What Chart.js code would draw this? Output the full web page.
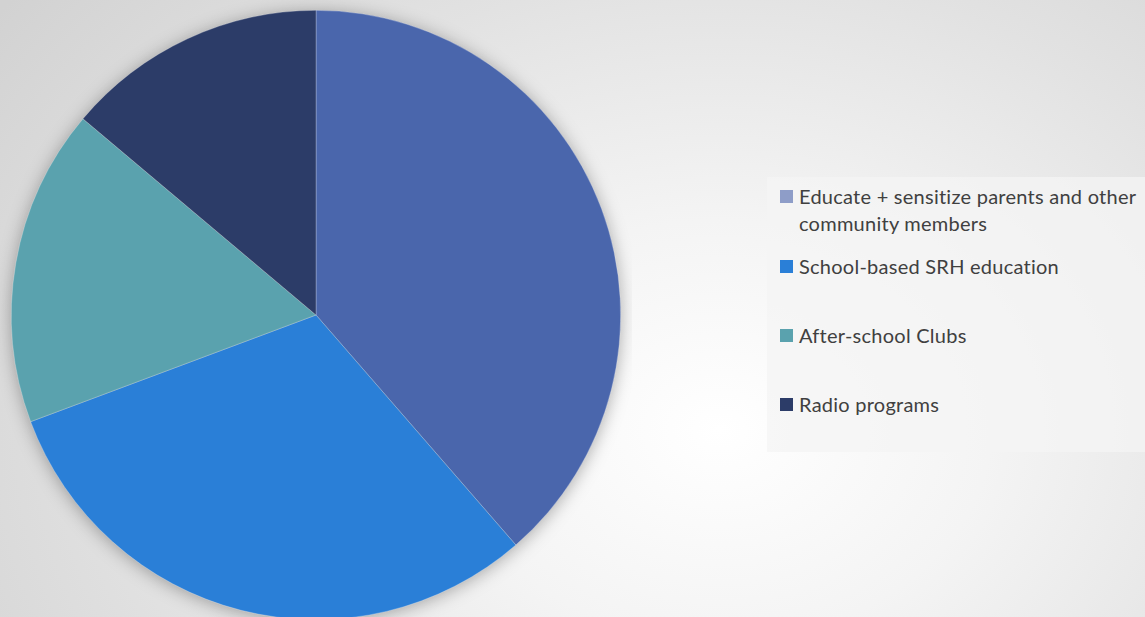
<!DOCTYPE html>
<html>
<head>
<meta charset="utf-8">
<script src="https://cdn.jsdelivr.net/npm/chart.js@4/dist/chart.umd.min.js"></script>
<style>
  html, body { margin:0; padding:0; width:1145px; height:617px; overflow:hidden; }
  body {
    background: radial-gradient(ellipse 900px 700px at 720px 430px, #ffffff 0%, #f4f4f4 30%, #e2e2e2 65%, #d2d2d2 100%);
    font-family: Lato, "Open Sans", sans-serif;
    position: relative;
  }
  #wrap { position:absolute; left:0; top:0; width:632px; height:630px; }
  #legend {
    position:absolute; left:767px; top:177px; width:378px; height:275px;
    background: rgba(244,244,244,0.75);
    box-sizing:border-box; padding-left:13px;
  }
  .item { position:absolute; left:13px; display:flex; align-items:flex-start; color:#404040; font-size:20px; letter-spacing:0.25px; line-height:27px; }
  .sw { width:13px; height:13px; margin-top:7px; margin-right:6px; flex:none; }
  .txt { width:350px; }
</style>
</head>
<body>
<div id="wrap"><canvas id="c"></canvas></div>
<div id="legend"></div>
<script>
const categories = [
  "Educate + sensitize parents and other community members",
  "School-based SRH education",
  "After-school Clubs",
  "Radio programs"
];
const values = [39, 31, 17, 14];
const colors = ["#4A66AC", "#2A7FD7", "#5AA2AE", "#2C3C68"];
const legendColors = ["#8E9DC8", "#2A7FD7", "#5AA2AE", "#2C3C68"];
const legendTops = [6, 76, 145, 214];

const shadowPlugin = {
  id: 'pieShadow',
  beforeDatasetsDraw(chart) {
    const arc = chart.getDatasetMeta(0).data[0];
    if (!arc) return;
    const ctx = chart.ctx;
    ctx.save();
    ctx.shadowColor = 'rgba(0,0,0,0.35)';
    ctx.shadowBlur = 18;
    ctx.shadowOffsetX = 0;
    ctx.shadowOffsetY = 2;
    ctx.fillStyle = '#888';
    ctx.beginPath();
    ctx.arc(arc.x, arc.y, arc.outerRadius - 1, 0, Math.PI * 2);
    ctx.fill();
    ctx.restore();
  }
};

new Chart(document.getElementById('c'), {
  type: 'pie',
  data: {
    labels: categories,
    datasets: [{
      data: values,
      backgroundColor: colors,
      borderColor: 'rgba(255,255,255,0.35)',
      borderWidth: 0.7
    }]
  },
  options: {
    responsive: true,
    maintainAspectRatio: false,
    animation: false,
    layout: { padding: 10 },
    plugins: { legend: { display: false }, tooltip: { enabled: false } }
  },
  plugins: [shadowPlugin]
});

const lg = document.getElementById('legend');
categories.forEach((name, i) => {
  const d = document.createElement('div');
  d.className = 'item';
  d.style.top = legendTops[i] + 'px';
  const sw = document.createElement('div');
  sw.className = 'sw';
  sw.style.background = legendColors[i];
  const t = document.createElement('div');
  t.className = 'txt';
  t.textContent = name;
  d.appendChild(sw); d.appendChild(t);
  lg.appendChild(d);
});
</script>
</body>
</html>
